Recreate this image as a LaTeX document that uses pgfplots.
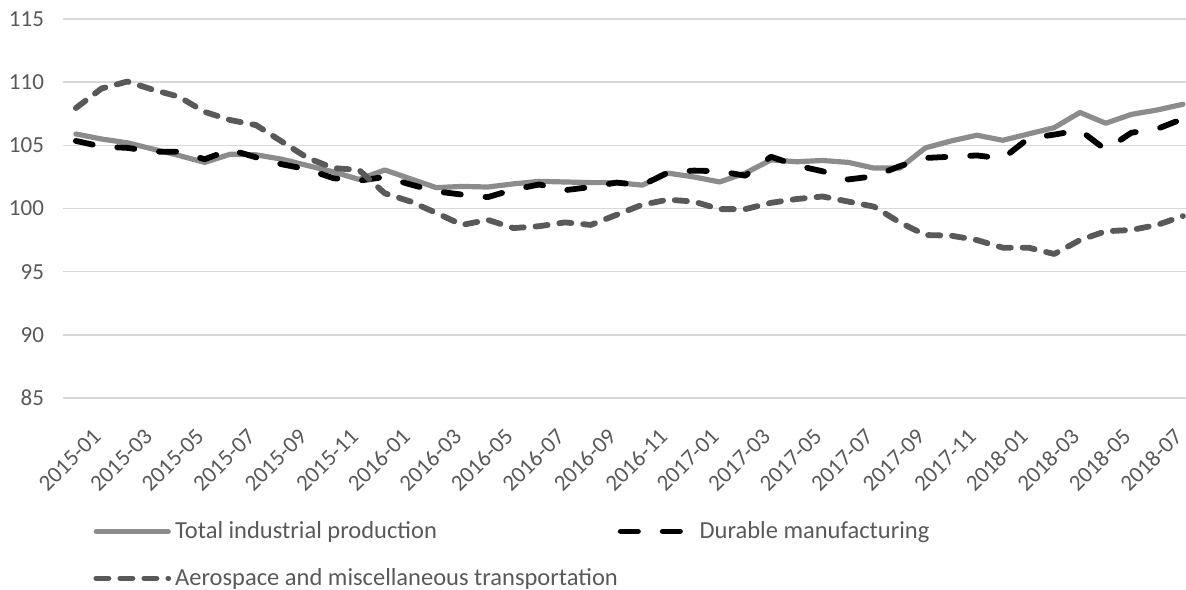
\documentclass[border=0pt]{standalone}
\usepackage{fontspec}
\setmainfont{Carlito}
\usepackage{pgfplots}
\pgfplotsset{compat=1.18}
\definecolor{txt}{HTML}{595959}
\definecolor{gridc}{HTML}{D9D9D9}
\definecolor{tot}{HTML}{8C8C8C}
\definecolor{aero}{HTML}{595959}

\pgfplotstableread{
i total durable aero
0 105.9 105.35 107.95
1 105.5 104.9 109.5
2 105.2 104.8 110.05
3 104.7 104.5 109.4
4 104.2 104.5 108.85
5 103.65 103.9 107.65
6 104.3 104.65 107.0
7 104.25 104.05 106.6
8 103.9 103.5 105.3
9 103.4 103.1 104.0
10 102.9 102.4 103.2
11 102.3 102.2 103.05
12 103.05 102.5 101.2
13 102.35 101.9 100.55
14 101.65 101.35 99.65
15 101.75 101.1 98.7
16 101.7 100.9 99.1
17 101.95 101.5 98.45
18 102.15 101.9 98.6
19 102.1 101.45 98.9
20 102.05 101.7 98.7
21 102.05 102.05 99.5
22 101.85 101.85 100.3
23 102.8 102.85 100.7
24 102.5 103.0 100.55
25 102.1 102.95 99.95
26 102.8 102.6 99.95
27 103.85 104.1 100.45
28 103.7 103.4 100.75
29 103.8 102.95 100.95
30 103.65 102.3 100.55
31 103.2 102.55 100.15
32 103.2 103.35 98.9
33 104.8 104.0 97.9
34 105.35 104.1 97.85
35 105.8 104.2 97.5
36 105.4 103.95 96.9
37 105.9 105.55 96.9
38 106.4 105.85 96.4
39 107.6 106.2 97.5
40 106.75 104.65 98.2
41 107.45 106.0 98.3
42 107.8 106.3 98.7
43 108.25 107.1 99.4
}\datatable

\begin{document}
\begin{tikzpicture}
\useasboundingbox (0,0) rectangle (593pt,294.5pt);
\begin{axis}[
  at={(31.5pt,95.5pt)}, anchor=south west,
  width=561.5pt, height=189.5pt, scale only axis,
  xmin=-0.5, xmax=43.12, ymin=85, ymax=115,
  ytick={85,90,...,115},
  xtick={0,2,...,42},
  xticklabels={2015-01,2015-03,2015-05,2015-07,2015-09,2015-11,2016-01,2016-03,2016-05,2016-07,2016-09,2016-11,2017-01,2017-03,2017-05,2017-07,2017-09,2017-11,2018-01,2018-03,2018-05,2018-07},
  axis line style={draw=none},
  major tick length=0pt,
  ymajorgrids, grid style={gridc, line width=0.75pt},
  tick label style={font=\fontsize{11.5}{13}\selectfont, text=txt},
  xticklabel style={rotate=45, anchor=east, xshift=-1.4pt, yshift=-19.8pt},
  yticklabel style={anchor=east, xshift=-6pt},
  /pgf/number format/assume math mode=true,
  clip=false,
  legend columns=2,
  legend cell align=left,
  legend image code/.code={\draw[#1] (0pt,0pt) -- (36pt,0pt);},
  legend style={at={(0,0)}, anchor=north west, xshift=15pt, yshift=-59.5pt,
    draw=none, fill=none, inner sep=0pt, text=txt,
    font=\fontsize{12.25}{14}\selectfont, row sep=9.5pt,
    /tikz/every even column/.append style={column sep=-2pt}},
]
\addplot[tot, line width=2.6pt, line join=round, line cap=round] table[x=i, y=total] {\datatable};
\addlegendentry{Total industrial production}
\addplot[black, line width=2.9pt, line join=round, line cap=round, dash pattern=on 8.6pt off 12.4pt] table[x=i, y=durable] {\datatable};
\addlegendentry{Durable manufacturing}
\addplot[aero, line width=2.9pt, line join=round, line cap=round, dash pattern=on 6.1pt off 5.9pt] table[x=i, y=aero] {\datatable};
\addlegendentry{Aerospace and miscellaneous transportation}
\end{axis}
\end{tikzpicture}
\end{document}
